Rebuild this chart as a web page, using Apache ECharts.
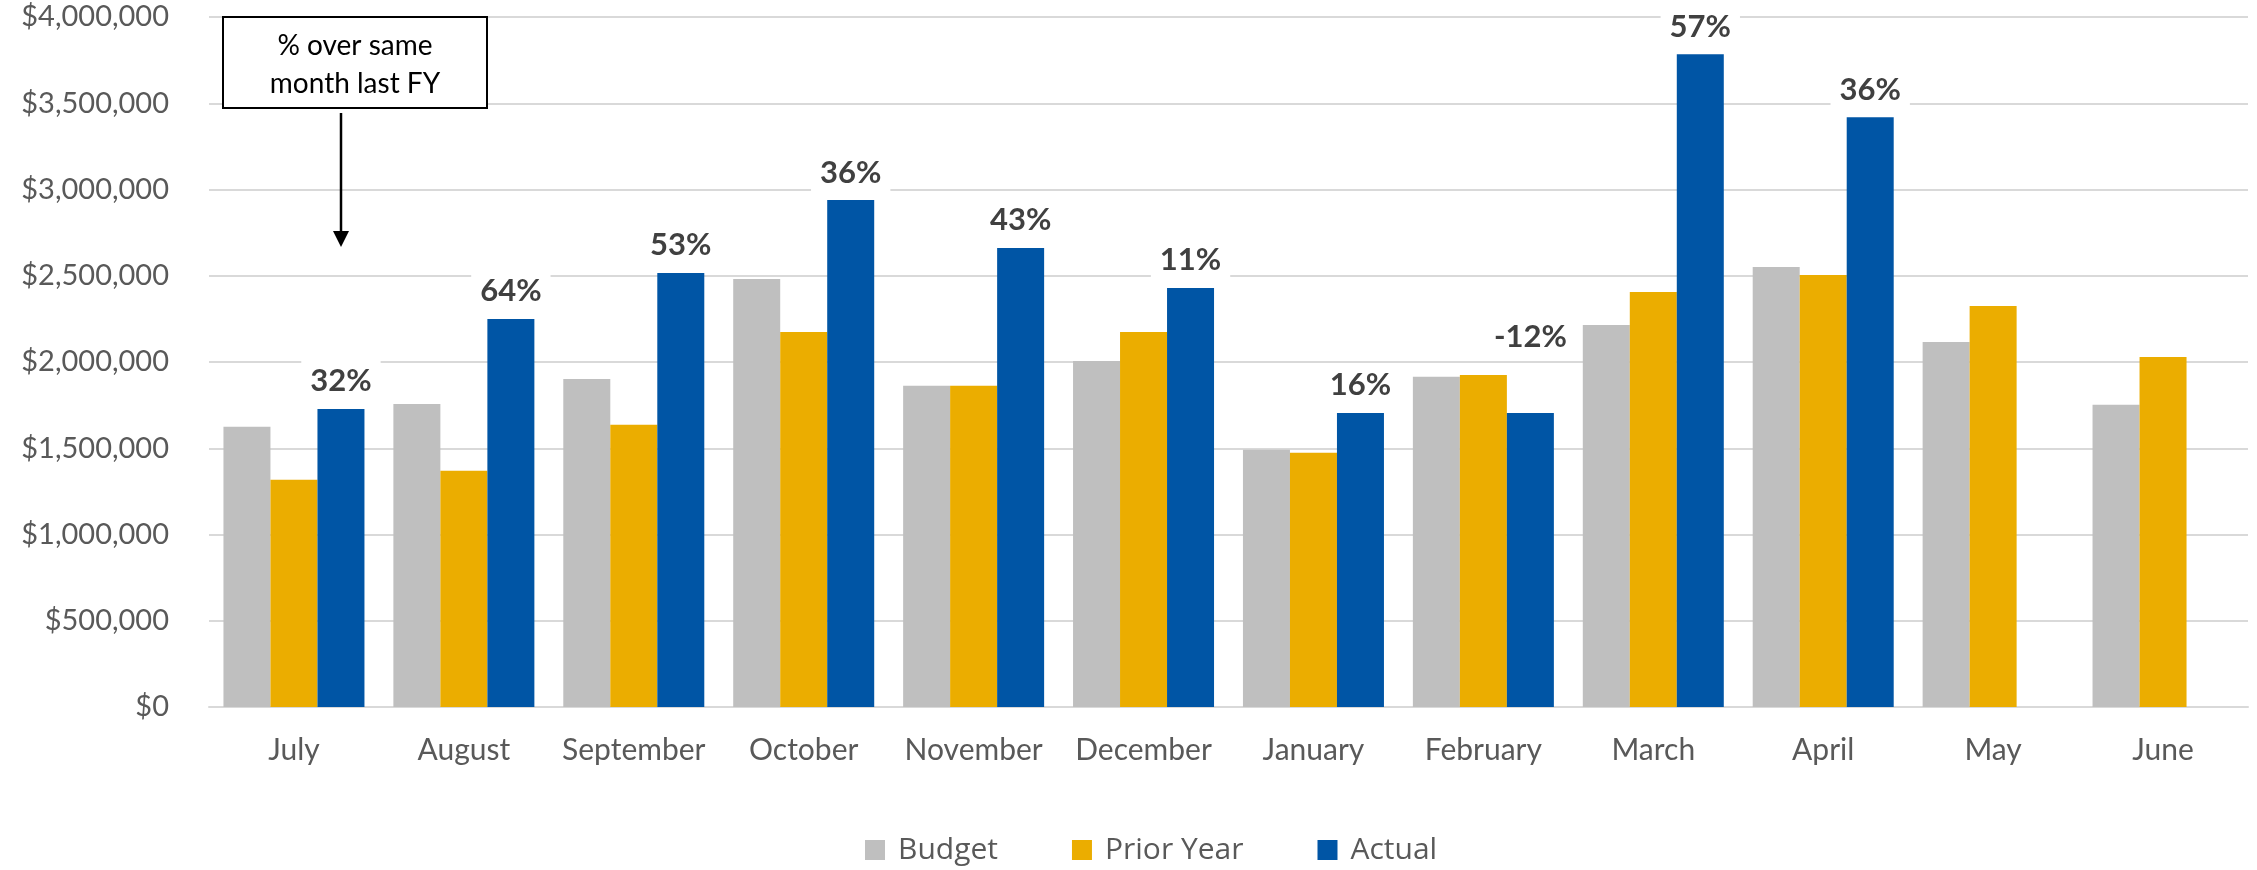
<!DOCTYPE html>
<html>
<head>
<meta charset="utf-8">
<script src="https://cdn.jsdelivr.net/npm/echarts@6/dist/echarts.min.js"></script>
<style>html,body{margin:0;padding:0;background:#fff;}#chart{width:2257px;height:870px;}</style>
</head>
<body>
<div id="chart"></div>
<script>
const categories = ['July','August','September','October','November','December','January','February','March','April','May','June'];
const budget = [1624000,1757000,1902000,2481000,1862000,2006000,1491000,1914000,2215000,2551000,2116000,1752000];
const priorYear = [1317000,1369000,1636000,2174000,1862000,2174000,1474000,1925000,2406000,2504000,2325000,2029000];
const actual = [1728000,2250000,2516000,2939000,2661000,2429000,1705000,1705000,3784000,3419000,null,null];
const pctLabels = ['32%','64%','53%','36%','43%','11%','16%','-12%','57%','36%','',''];
const yTicks = [0,500000,1000000,1500000,2000000,2500000,3000000,3500000,4000000];

const FONT = 'Lato';
const chart = echarts.init(document.getElementById('chart'), null, {renderer:'canvas'});

const actualData = actual.map((v,i)=> i===7
  ? {value:v, label:{offset:[0,-48]}}
  : v);

const option = {
  backgroundColor:'#ffffff',
  animation:false,
  textStyle:{fontFamily:FONT},
  grid:{left:209,right:9,top:17,bottom:163,containLabel:false},
  legend:{
    data:['Budget','Prior Year','Actual'],
    top:830, left:860,
    itemWidth:20,itemHeight:20,itemGap:74,
    icon:'rect',
    textStyle:{fontFamily:'Open Sans',fontSize:30,color:'#595959',padding:[0,0,0,8]}
  },
  xAxis:{
    type:'category',data:categories,
    axisLine:{lineStyle:{color:'#d9d9d9',width:2}},
    axisTick:{show:false},
    axisLabel:{interval:0,fontFamily:FONT,fontSize:30,color:'#595959',margin:28}
  },
  yAxis:{
    type:'value',min:yTicks[0],max:yTicks[yTicks.length-1],interval:500000,
    axisLine:{show:false},axisTick:{show:false},
    splitLine:{lineStyle:{color:'#d9d9d9',width:2}},
    axisLabel:{fontFamily:FONT,fontSize:29,color:'#595959',margin:40,
      formatter:v=>'$'+v.toLocaleString('en-US')}
  },
  series:[
    {name:'Budget',type:'bar',data:budget,barWidth:47,barGap:'0%',itemStyle:{color:'#BFBFBF'}},
    {name:'Prior Year',type:'bar',data:priorYear,barWidth:47,barGap:'0%',itemStyle:{color:'#EBAD00'}},
    {name:'Actual',type:'bar',data:actualData,barWidth:47,barGap:'0%',itemStyle:{color:'#0055A5'},
      label:{show:true,position:'top',distance:8,
        formatter:p=>pctLabels[p.dataIndex],
        fontFamily:FONT,fontSize:31,fontWeight:'bold',color:'#404040',
        backgroundColor:'#ffffff',padding:[6,9,4,9]}}
  ],
  graphic:[
    {type:'rect',z:100,shape:{x:223,y:17,width:264,height:91},style:{fill:'#ffffff',stroke:'#000000',lineWidth:2}},
    {type:'text',z:101,x:355,y:46,style:{text:'% over same',fontFamily:FONT,fontSize:28,fill:'#000000',align:'center',verticalAlign:'middle'}},
    {type:'text',z:101,x:355,y:84,style:{text:'month last FY',fontFamily:FONT,fontSize:28,fill:'#000000',align:'center',verticalAlign:'middle'}},
    {type:'line',z:100,shape:{x1:341,y1:113,x2:341,y2:234},style:{stroke:'#000000',lineWidth:2.5}},
    {type:'polygon',z:100,shape:{points:[[333,231],[349,231],[341,247]]},style:{fill:'#000000'}}
  ]
};
chart.setOption(option);
</script>
</body>
</html>
